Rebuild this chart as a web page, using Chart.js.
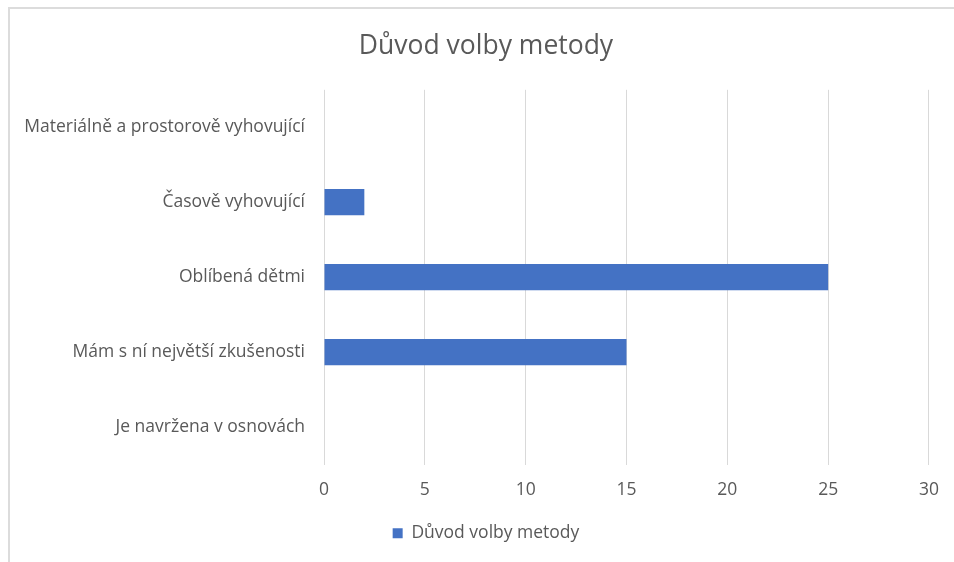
<!DOCTYPE html>
<html>
<head>
<meta charset="utf-8">
<script src="https://cdn.jsdelivr.net/npm/chart.js@4"></script>
<style>
  html, body { margin: 0; padding: 0; background: #fff; overflow: hidden; }
  #wrap { position: relative; width: 954px; height: 562px; }
  #frame {
    position: absolute; left: 8px; top: 7px; width: 980px; height: 600px;
    border: 2px solid #dcdcdc; box-sizing: border-box;
  }
  #chart { position: absolute; left: 0; top: 0; }
</style>
</head>
<body>
<div id="wrap">
  <div id="frame"></div>
  <canvas id="chart" width="954" height="562"></canvas>
</div>
<script>
  'use strict';

  // Categories top to bottom
  const categories = [
    'Materiálně a prostorově vyhovující',
    'Časově vyhovující',
    'Oblíbená dětmi',
    'Mám s ní největší zkušenosti',
    'Je navržena v osnovách'
  ];
  const values = [0, 2, 25, 15, 0];
  const seriesName = 'Důvod volby metody';
  const chartTitle = 'Důvod volby metody';
  const xMin = 0;
  const xMax = 30;
  const xStep = 5;

  const textColor = '#595959';
  const gridColor = '#d9d9d9';
  const barColor = '#4472C4';
  const fontFamily = "'Open Sans', 'DejaVu Sans', sans-serif";

  Chart.defaults.font.family = fontFamily;
  Chart.defaults.color = textColor;

  const ctx = document.getElementById('chart');

  new Chart(ctx, {
    type: 'bar',
    data: {
      labels: categories,
      datasets: [{
        label: seriesName,
        data: values,
        backgroundColor: barColor,
        borderWidth: 0,
        categoryPercentage: 0.7,
        barPercentage: 0.5
      }]
    },
    options: {
      indexAxis: 'y',
      responsive: false,
      animation: false,
      layout: {
        padding: { left: 18, right: 0, top: 10, bottom: 10 }
      },
      plugins: {
        title: {
          display: true,
          text: chartTitle,
          color: textColor,
          font: { size: 26.5, weight: 'normal' },
          padding: { top: 21, bottom: 27 }
        },
        legend: {
          display: true,
          position: 'bottom',
          labels: {
            boxWidth: 10,
            boxHeight: 10,
            padding: 10,
            color: textColor,
            font: { size: 17.5 }
          }
        },
        tooltip: { enabled: false }
      },
      scales: {
        x: {
          min: xMin,
          max: xMax,
          ticks: {
            stepSize: xStep,
            padding: 15,
            color: textColor,
            font: { size: 17.5 }
          },
          grid: {
            color: gridColor,
            lineWidth: 1,
            drawTicks: false
          },
          border: { display: false },
          afterFit: function (scale) {
            scale.height = 50;
          }
        },
        y: {
          ticks: {
            padding: 19,
            color: textColor,
            font: { size: 17.5 }
          },
          grid: { display: false, drawTicks: false },
          border: { display: false },
          afterFit: function (scale) {
            scale.width = 306;
          }
        },
        // empty spacer on the right so the title stays centred on the whole frame
        yRight: {
          type: 'category',
          position: 'right',
          ticks: { display: false },
          grid: { display: false, drawTicks: false },
          border: { display: false },
          afterFit: function (scale) {
            scale.width = 24;
          }
        }
      }
    }
  });
</script>
</body>
</html>
